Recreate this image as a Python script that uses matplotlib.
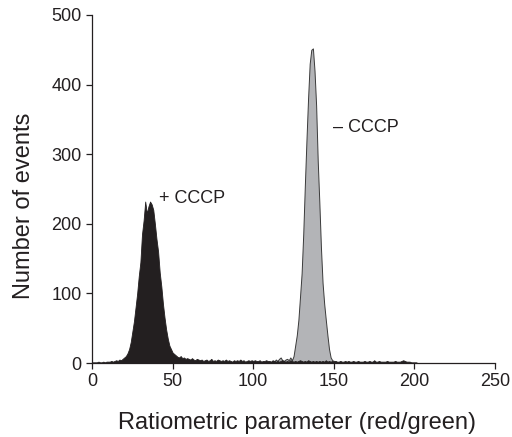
import numpy as np
import matplotlib
matplotlib.use('Agg')
import matplotlib.pyplot as plt

plt.rcParams['font.family'] = ['Liberation Sans', 'DejaVu Sans']

# +CCCP histogram (counts per unit of ratiometric parameter, 0..202)
plus_counts = [
    1, 1, 1, 1, 2, 1, 1, 2, 1, 2,
    2, 2, 3, 2, 3, 4, 3, 5, 4, 6,
    8, 10, 14, 20, 30, 45, 60, 80, 100, 125,
    145, 185, 205, 232, 215, 225, 232, 228, 220, 200,
    178, 160, 130, 110, 85, 65, 48, 35, 25, 20,
    15, 13, 11, 9, 8, 10, 7, 8, 6, 7,
    6, 5, 7, 5, 4, 6, 5, 4, 5, 3,
    4, 5, 3, 4, 6, 3, 4, 3, 5, 4,
    3, 4, 3, 5, 3, 4, 3, 2, 4, 3,
    4, 3, 5, 3, 4, 2, 3, 4, 3, 4,
    3, 4, 3, 3, 4, 2, 3, 3, 4, 3,
    3, 2, 4, 3, 2, 3, 2, 3, 4, 3,
    2, 3, 2, 4, 3, 2, 3, 2, 3, 4,
    3, 2, 3, 2, 4, 3, 2, 3, 2, 3,
    2, 3, 2, 3, 2, 4, 2, 3, 2, 3,
    2, 3, 2, 2, 3, 2, 2, 3, 2, 3,
    2, 2, 3, 2, 2, 3, 2, 2, 2, 3,
    2, 2, 3, 2, 2, 4, 2, 2, 3, 2,
    2, 2, 2, 3, 2, 2, 2, 2, 3, 2,
    2, 2, 3, 4, 3, 2, 2, 2, 1, 1,
    1, 1, 0,
]
plus_x = np.arange(len(plus_counts))

# -CCCP histogram (108..153)
minus_x = np.arange(108, 154)
minus_counts = [
    0, 1, 2, 1, 3, 2, 5, 3, 6, 8, 4, 3,
    5, 6, 4, 8, 4, 10, 25, 40, 62, 95,
    129, 185, 255, 320, 380, 430, 450, 452, 420, 370,
    290, 230, 165, 115, 85, 62, 40, 20, 8, 4,
    3, 2, 1, 0,
]

x_ticks = [0, 50, 100, 150, 200, 250]
y_ticks = [0, 100, 200, 300, 400, 500]

fig = plt.figure(figsize=(5.12, 4.37), dpi=100)
ax = fig.add_axes([0.1797, 0.1693, 0.7873, 0.7964])

ax.fill_between(minus_x, 0, minus_counts, color='#b3b4b7',
                edgecolor='#3a3a3a', linewidth=0.7, zorder=2)
ax.fill_between(plus_x, 0, plus_counts, color='#231f20',
                edgecolor='#231f20', linewidth=0.6, zorder=3)

ax.text(41.5, 237, '+ CCCP', fontsize=13, ha='left', va='center', color='#231f20')
ax.text(149.4, 338, '\u2013 CCCP', fontsize=13, ha='left', va='center', color='#231f20')

ax.set_xlim(0, 250)
ax.set_ylim(0, 500)
ax.set_xticks(x_ticks)
ax.set_yticks(y_ticks)
ax.tick_params(direction='out', length=4, width=0.9, labelsize=13, colors='#231f20')
for side in ['top', 'right']:
    ax.spines[side].set_visible(False)
for side in ['left', 'bottom']:
    ax.spines[side].set_linewidth(0.9)
    ax.spines[side].set_color('#231f20')

ax.set_xlabel('Ratiometric parameter (red/green)', fontsize=17, color='#231f20')
ax.set_ylabel('Number of events', fontsize=17, color='#231f20')
ax.xaxis.set_label_coords(0.509, -0.172)
ax.yaxis.set_label_coords(-0.169, 0.4526)
ax.xaxis.label.set_va('center')
ax.yaxis.label.set_va('center')

plt.savefig('out.png', dpi=100)
